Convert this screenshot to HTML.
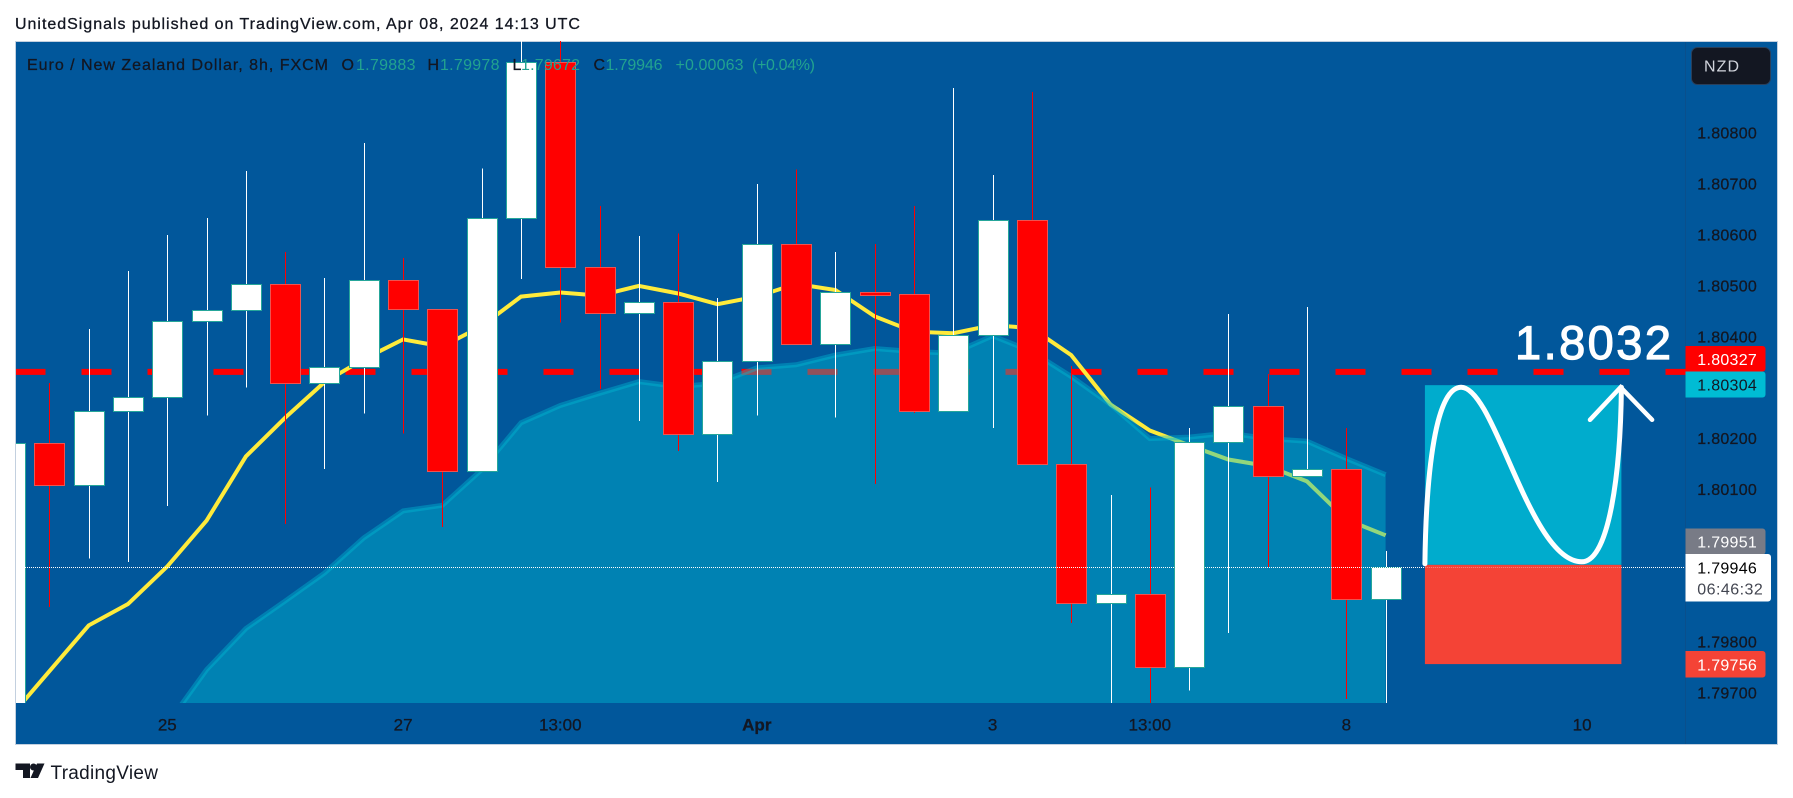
<!DOCTYPE html>
<html lang="en">
<head>
<meta charset="utf-8">
<title>EUR/NZD 8h chart</title>
<style>
html,body{margin:0;padding:0;background:#fff;width:1793px;height:798px;overflow:hidden}
svg{display:block}
text{font-family:"Liberation Sans",sans-serif}
.heavy{stroke:#131722;stroke-width:.3px}
</style>
</head>
<body>
<svg id="chart" xmlns="http://www.w3.org/2000/svg" width="1793" height="798" viewBox="0 0 1793 798">
  <defs>
    <clipPath id="plot-clip"><rect x="16" y="41" width="1669.5" height="662"/></clipPath>
  </defs>
  <text class="heavy" x="15" y="29" font-size="16" fill="#131722" textLength="565" lengthAdjust="spacing">UnitedSignals published on TradingView.com, Apr 08, 2024 14:13 UTC</text>
  <rect x="15.5" y="41.5" width="1762" height="703" fill="#01579b" stroke="#c3d0df" stroke-width="1"/>
  <line x1="1685.5" y1="42" x2="1685.5" y2="744" stroke="#0a4f8c" stroke-width="1"/>
  <g id="plot-layer" clip-path="url(#plot-clip)"></g>
  <g id="drawing-layer"></g>
  <text x="1515" y="359" font-size="47" fill="#ffffff" stroke="#ffffff" stroke-width="1.2" textLength="156" lengthAdjust="spacing">1.8032</text>
  <g id="axis-layer"></g>
  <g font-size="16">
    <text class="heavy" x="27" y="70" fill="#131722" textLength="301" lengthAdjust="spacing">Euro / New Zealand Dollar, 8h, FXCM</text>
    <text class="heavy" x="341.5" y="70" fill="#131722">O</text>
    <text x="356" y="70" fill="#22a38f" textLength="59.5" lengthAdjust="spacing">1.79883</text>
    <text class="heavy" x="427.5" y="70" fill="#131722">H</text>
    <text x="440" y="70" fill="#22a38f" textLength="59.5" lengthAdjust="spacing">1.79978</text>
    <text class="heavy" x="512.5" y="70" fill="#131722">L</text>
    <text x="521" y="70" fill="#22a38f" textLength="59" lengthAdjust="spacing">1.79672</text>
    <text class="heavy" x="593.5" y="70" fill="#131722">C</text>
    <text x="605.5" y="70" fill="#22a38f" textLength="57" lengthAdjust="spacing">1.79946</text>
    <text x="675.5" y="70" fill="#22a38f" textLength="68" lengthAdjust="spacing">+0.00063</text>
    <text x="752" y="70" fill="#22a38f" textLength="63" lengthAdjust="spacing">(+0.04%)</text>
  </g>
  <g>
    <rect x="1691.5" y="47.5" width="79" height="37" rx="6" fill="#131722" stroke="#2a3f5a"/>
    <text x="1704" y="71.5" font-size="16" fill="#d1d4dc" textLength="35" lengthAdjust="spacing">NZD</text>
  </g>
  <g>
    <path fill="#131722" d="M15.5 763.5H30V778H23V770H15.5Z"/>
    <circle fill="#131722" cx="33.5" cy="767" r="3.5"/>
    <path fill="#131722" d="M37 763.5H44.5L38 778H30.5Z"/>
    <text x="50.5" y="779" font-size="19" fill="#131722" textLength="107.5" lengthAdjust="spacing">TradingView</text>
  </g>
</svg>
<script>
// Candle data, one entry per 8h bar; the first bar is index -1 (clipped at the left edge)
const opens  = [1.79600,1.80190,1.80108,1.80253,1.80281,1.80431,1.80451,1.80502,1.80308,1.80340,1.80510,1.80453,1.80135,1.80632,1.80939,1.80536,1.80445,1.80467,1.80208,1.80351,1.80581,1.80384,1.80488,1.80483,1.80253,1.80402,1.80628,1.80149,1.79877,1.79894,1.79750,1.80193,1.80264,1.80125,1.80139,1.79883];
const highs  = [1.80190,1.80308,1.80414,1.80528,1.80599,1.80632,1.80725,1.80566,1.80515,1.80780,1.80554,1.80453,1.80730,1.81000,1.81000,1.80656,1.80597,1.80602,1.80475,1.80699,1.80728,1.80566,1.80581,1.80656,1.80888,1.80717,1.80880,1.80342,1.80088,1.80103,1.80220,1.80444,1.80326,1.80458,1.80220,1.79978];
const lows   = [1.79600,1.79868,1.79963,1.79957,1.80067,1.80244,1.80299,1.80031,1.80139,1.80248,1.80209,1.80025,1.80135,1.80513,1.80427,1.80296,1.80234,1.80175,1.80114,1.80244,1.80384,1.80240,1.80110,1.80249,1.80253,1.80220,1.80149,1.79837,1.79660,1.79660,1.79704,1.79817,1.79947,1.80125,1.79687,1.79672];
const closes = [1.80190,1.80108,1.80253,1.80281,1.80431,1.80451,1.80502,1.80308,1.80340,1.80510,1.80453,1.80135,1.80632,1.80939,1.80536,1.80445,1.80467,1.80208,1.80351,1.80581,1.80384,1.80488,1.80481,1.80253,1.80402,1.80628,1.80149,1.79877,1.79894,1.79750,1.80193,1.80264,1.80125,1.80139,1.79883,1.79946];

// Indicator series
const yellowLine = [1.79652,1.79742,1.79832,1.79874,1.79948,1.80038,1.80164,1.80240,1.80310,1.80355,1.80394,1.80380,1.80420,1.80478,1.80486,1.80480,1.80499,1.80484,1.80463,1.80478,1.80503,1.80491,1.80439,1.80409,1.80406,1.80422,1.80416,1.80363,1.80266,1.80215,1.80186,1.80158,1.80145,1.80115,1.80040,1.80009];
const areaLine = [null,null,null,null,1.79638,1.79745,1.79826,1.79880,1.79935,1.80004,1.80057,1.80068,1.80138,1.80230,1.80264,1.80288,1.80311,1.80301,1.80308,1.80338,1.80344,1.80363,1.80376,1.80370,1.80367,1.80401,1.80370,1.80321,1.80266,1.80199,1.80202,1.80210,1.80199,1.80194,1.80160,1.80128];

// Axis labels
const priceTicks = [1.808,1.807,1.806,1.805,1.804,1.802,1.801,1.798,1.797];
const timeLabels = ["25","27","13:00","Apr","3","13:00","8","10"];
const timeBars = [3,9,13,18,24,28,33,39];
const boldTimeLabels = ["Apr"];

// Horizontal levels
const resistanceLevel = 1.8033;
const lastPrice = 1.79946;

// Long position drawing, in bar index / price units
const positionBars = [35, 40];
const positionTarget = 1.80304;
const positionEntry = 1.79951;
const positionStop = 1.79756;
const curveBars = [35,35.03,35.28,35.92,36.78,37.67,38.99,39.7,39.98,40];
const curvePrices = [1.79953,1.80137,1.80300,1.80300,1.80300,1.79957,1.79957,1.79957,1.80137,1.80300];
const arrowBars = [39.2,39.98,40.78];
const arrowPrices = [1.80236,1.80300,1.80236];

// Price-axis tags
const tagPrices = ["1.80327","1.80304","1.79951","1.79756"];
const countdownText = "06:46:32";

const NS = "http://www.w3.org/2000/svg";
const plotBottom = 703;
function xScale(bar){ return 49.4 + 39.3 * bar; }
function yScale(price){ return 132.7 + (1.808 - price) * 50900; }
function make(tag, parent, props){
  const el = document.createElementNS(NS, tag);
  for (const k in props) el.setAttribute(k, props[k]);
  parent.appendChild(el);
  return el;
}
const plot = document.getElementById("plot-layer");
const drawing = document.getElementById("drawing-layer");
const axis = document.getElementById("axis-layer");
const fmt = function(p){ return p.toFixed(5); };

// resistance dashed line
const dash = make("line", plot, {x1:15.5, x2:1686, y1:yScale(resistanceLevel), y2:yScale(resistanceLevel), stroke:"#ff0000", "stroke-width":6, "stroke-dasharray":"30 36"});



// yellow moving average
let yellowPts = yellowLine.map(function(p, k){ return xScale(k - 1).toFixed(1) + "," + yScale(p).toFixed(1); }).join(" ");
const yellow = make("polyline", plot, {points:yellowPts, fill:"none", stroke:"#ffeb3b", "stroke-width":4, "stroke-linejoin":"miter"});



// teal area
let areaPts = [];
areaLine.forEach(function(p, k){ if (p !== null) areaPts.push([xScale(k - 1), yScale(p)]); });
const areaStr = areaPts.map(function(a){ return a[0].toFixed(1) + "," + a[1].toFixed(1); }).join(" ");
const areaFill = make("polygon", plot, {points:areaStr + " " + areaPts[areaPts.length-1][0].toFixed(1) + "," + (plotBottom+5) + " " + areaPts[0][0].toFixed(1) + "," + (plotBottom+5), fill:"#00bcd4", "fill-opacity":0.43});


const areaEdge = make("polyline", plot, {points:areaStr, fill:"none", stroke:"#00bcd4", "stroke-opacity":0.4, "stroke-width":5});



// candles
opens.forEach(function(o, k){
  const bar = k - 1;
  const c = closes[k], h = highs[k], l = lows[k];
  const up = c >= o;
  const cx = Math.round(xScale(bar));
  const g = make("g", plot, {});
  
  
  const wick = make("rect", g, {x:cx, y:yScale(h), width:1, height:yScale(l) - yScale(h), fill: up ? "#ffffff" : "#ff0000", "shape-rendering":"crispEdges"});
  
  
  const top = Math.round(yScale(Math.max(o, c)));
  const bot = Math.round(yScale(Math.min(o, c)));
  const body = make("rect", g, {x:cx - 14.5, y:top + 0.5, width:30, height:Math.max(bot - top, 1), fill: up ? "#ffffff" : "#ff0000", stroke: up ? "#26a69a" : "#ef5350", "stroke-width":1});
  
  
});

// last price dotted line
const dotted = make("line", plot, {x1:25, x2:1685, y1:Math.round(yScale(lastPrice)) + 0.5, y2:Math.round(yScale(lastPrice)) + 0.5, stroke:"#ffffff", "stroke-width":1, "stroke-dasharray":"1 1"});



// position drawing
const px0 = xScale(positionBars[0]), px1 = xScale(positionBars[1]);
const profit = make("rect", drawing, {x:px0, y:yScale(positionTarget), width:px1 - px0, height:yScale(positionEntry) - yScale(positionTarget), fill:"#00accd"});


const loss = make("rect", drawing, {x:px0, y:yScale(positionEntry), width:px1 - px0, height:yScale(positionStop) - yScale(positionEntry), fill:"#f44336"});


const dotted2 = make("line", drawing, {x1:px0, x2:px1, y1:Math.round(yScale(lastPrice)) + 0.5, y2:Math.round(yScale(lastPrice)) + 0.5, stroke:"#ffffff", "stroke-width":1, "stroke-dasharray":"1 1", opacity:0.35});


let curveD = "M" + xScale(curveBars[0]).toFixed(1) + " " + yScale(curvePrices[0]).toFixed(1);
for (let i = 1; i < curveBars.length; i += 3) {
  curveD += " C";
  for (let j = 0; j < 3; j++) curveD += xScale(curveBars[i + j]).toFixed(1) + " " + yScale(curvePrices[i + j]).toFixed(1) + " ";
}
const curve = make("path", drawing, {d:curveD, fill:"none", stroke:"#ffffff", "stroke-width":5, "stroke-linecap":"round"});


const arrowPts = arrowBars.map(function(b, i){ return xScale(b).toFixed(1) + "," + yScale(arrowPrices[i]).toFixed(1); }).join(" ");
const arrow = make("polyline", drawing, {points:arrowPts, fill:"none", stroke:"#ffffff", "stroke-width":4.5, "stroke-linecap":"round", "stroke-linejoin":"miter"});



// axis labels
priceTicks.forEach(function(p){
  const t = make("text", axis, {class:"heavy", x:1697.3, y:yScale(p) + 6, "font-size":16, fill:"#131722", textLength:59.5, lengthAdjust:"spacing"});
  
  
  t.textContent = fmt(p);
});
timeLabels.forEach(function(label, i){
  const bold = boldTimeLabels.indexOf(label) >= 0;
  const t = make("text", axis, {class:"heavy", x:xScale(timeBars[i]), y:730.5, "font-size":17, fill:"#131722", "text-anchor":"middle", "font-weight": bold ? "700" : "400"});
  
  
  t.textContent = label;
});

// price tags
const tagTops = {"1.80327":346, "1.80304":371.5, "1.79951":528.5, "1.79756":651};
const tagHeights = {"1.80327":25.5, "1.80304":26, "1.79951":26, "1.79756":26.5};
const tagFills = {"1.80327":"#ff0000", "1.80304":"#00bcd4", "1.79951":"#787b86", "1.79756":"#f44336"};
const tagText = {"1.80327":"#ffffff", "1.80304":"#131722", "1.79951":"#ffffff", "1.79756":"#ffffff"};
tagPrices.forEach(function(label){
  const r = make("path", axis, {d:"M1685.5 " + tagTops[label] + "h77a3 3 0 0 1 3 3v" + (tagHeights[label] - 6) + "a3 3 0 0 1 -3 3h-77z", fill:tagFills[label]});
  
  
  const t = make("text", axis, {x:1697.3, y:tagTops[label] + tagHeights[label] / 2 + 6, "font-size":16, fill:tagText[label], textLength:59.5, lengthAdjust:"spacing"});
  
  
  t.textContent = label;
});
const lastBox = make("path", axis, {d:"M1685.5 554h82.5a3 3 0 0 1 3 3v41.5a3 3 0 0 1 -3 3h-82.5z", fill:"#ffffff"});


const lastLabel = make("text", axis, {x:1697.3, y:573.7, "font-size":16, fill:"#000000", textLength:59.5, lengthAdjust:"spacing"});


lastLabel.textContent = fmt(lastPrice);
const cd = make("text", axis, {x:1697.3, y:594.7, "font-size":16, fill:"#434651", textLength:65.5, lengthAdjust:"spacing"});


cd.textContent = countdownText;
</script>
</body>
</html>
